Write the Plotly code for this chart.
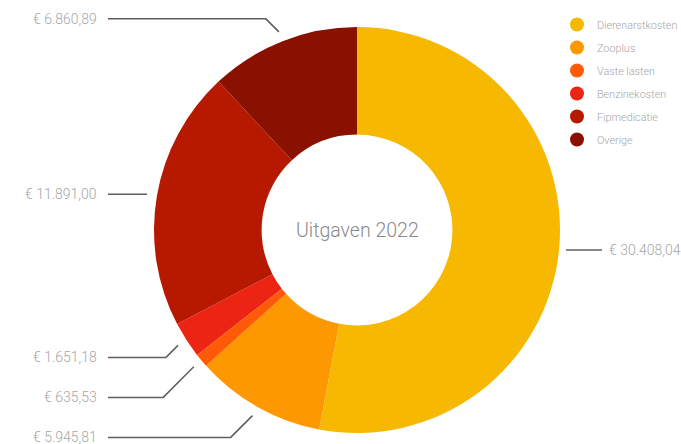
import math

import plotly.graph_objects as go

# data
categories = ["Dierenarstkosten", "Zooplus", "Vaste lasten", "Benzinekosten", "Fipmedicatie", "Overige"]
amounts = [30408.04, 5945.81, 635.53, 1651.18, 11891.00, 6860.89]
label_texts = ["€ 30.408,04", "€ 5.945,81", "€ 635,53", "€ 1.651,18", "€ 11.891,00", "€ 6.860,89"]
colors = ["#F6B800", "#FE9800", "#FF5A08", "#EC2414", "#B61800", "#8A1000"]
center_title = "Uitgaven 2022"

W, H = 681, 444
CX, CY, R = 357, 230, 203
FONT = "Roboto, sans-serif"
LINE_COLOR = "#5f5f5f"
TEXT_COLOR = "#a6a6a6"


def px(x):
    return x / W


def py(y):
    return 1 - y / H


fig = go.Figure()
fig.add_trace(
    go.Pie(
        labels=categories,
        values=amounts,
        sort=False,
        direction="clockwise",
        rotation=0,
        hole=0.47,
        marker=dict(colors=colors, line=dict(width=0)),
        textinfo="none",
        hoverinfo="label+value",
        showlegend=False,
        domain=dict(x=[px(CX - R), px(CX + R)], y=[py(CY + R), py(CY - R)]),
    )
)

# legend met ronde markers (dummy traces)
for i, (name, color) in enumerate(zip(categories, colors)):
    fig.add_trace(
        go.Scatter(
            x=[None],
            y=[None],
            mode="markers",
            name=name,
            legendgroup=f"g{i}",
            marker=dict(color=color, size=14, symbol="circle"),
        )
    )

# leader lines + labels, berekend uit de hoeken van de slices
total = sum(amounts)
cum = 0.0
points = []
for value, text in zip(amounts, label_texts):
    mid = (cum + value / 2) / total * 2 * math.pi
    cum += value
    sx = CX + (R + 10) * math.sin(mid)
    sy = CY - (R + 10) * math.cos(mid)
    points.append(dict(sx=sx, sy=sy, text=text, side="right" if sx > CX else "left"))

for p in points:
    if abs(p["sy"] - CY) < 60:
        p["ly"] = p["sy"]
    else:
        p["ly"] = p["sy"] + (12 if p["sy"] > CY else -13)

# onderste labels links uit elkaar duwen
lower_left = sorted([p for p in points if p["side"] == "left" and p["sy"] > CY + 60], key=lambda p: p["ly"])
for prev, cur in zip(lower_left, lower_left[1:]):
    cur["ly"] = max(cur["ly"], prev["ly"] + 40)

label_font = dict(family=FONT, size=14, color=TEXT_COLOR, weight=300)
for p in points:
    sx, sy, ly = p["sx"], p["sy"], p["ly"]
    dy = abs(ly - sy)
    if p["side"] == "left":
        ex = sx - dy
        path = f"M {px(sx)},{py(sy)} L {px(ex)},{py(ly)} L {px(108)},{py(ly)}"
        fig.add_annotation(
            x=px(99), y=py(ly), xref="paper", yref="paper", text=p["text"], showarrow=False,
            xanchor="right", yanchor="middle", font=label_font,
        )
    else:
        ex = sx + dy
        path = f"M {px(sx - 3)},{py(sy)} L {px(ex)},{py(ly)} L {px(602)},{py(ly)}"
        fig.add_annotation(
            x=px(607), y=py(ly), xref="paper", yref="paper", text=p["text"], showarrow=False,
            xanchor="left", yanchor="middle", font=label_font,
        )
    fig.add_shape(type="path", path=path, xref="paper", yref="paper", line=dict(color=LINE_COLOR, width=1.5))

fig.add_annotation(
    x=px(CX), y=py(CY), xref="paper", yref="paper", text=center_title, showarrow=False,
    font=dict(family=FONT, size=19.5, color="#8a8a8a", weight=300),
)

fig.update_layout(
    width=W,
    height=H,
    margin=dict(l=0, r=0, t=0, b=0, autoexpand=False),
    paper_bgcolor="white",
    plot_bgcolor="white",
    xaxis=dict(visible=False),
    yaxis=dict(visible=False),
    legend=dict(
        x=px(557), y=py(10), xanchor="left", yanchor="top",
        font=dict(family=FONT, size=10.8, color=TEXT_COLOR, weight=300),
        tracegroupgap=4, itemwidth=30, bgcolor="rgba(0,0,0,0)",
    ),
)

# body-marge weg zodat de figuur precies in het venster past
fig.write_html(
    "out.html",
    config={"displayModeBar": False},
    post_script="document.body.style.margin='0';document.body.style.overflow='hidden';"
    "document.documentElement.style.overflow='hidden';",
)
